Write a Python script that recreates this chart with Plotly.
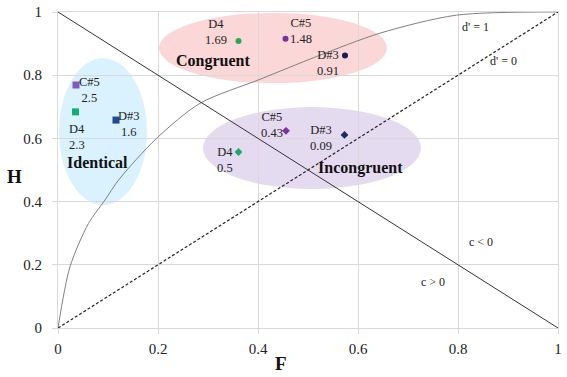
import plotly.graph_objects as go

# ---- data ----
notes = ["C#5", "D4", "D#3"]
# Identical condition
ident_F = [0.036, 0.035, 0.116]
ident_H = [0.769, 0.684, 0.658]
ident_d = ["2.5", "2.3", "1.6"]
# Congruent condition
cong_F = [0.455, 0.361, 0.574]
cong_H = [0.915, 0.908, 0.862]
cong_d = ["1.48", "1.69", "0.91"]
# Incongruent condition
incong_F = [0.456, 0.361, 0.573]
incong_H = [0.624, 0.557, 0.611]
incong_d = ["0.43", "0.5", "0.09"]

# d' = 1 iso-sensitivity curve
curve_F = [0, 0.024, 0.061, 0.094, 0.121, 0.197, 0.284, 0.404, 0.517, 0.644, 0.797, 1]
curve_H = [0, 0.194, 0.331, 0.405, 0.468, 0.600, 0.711, 0.787, 0.859, 0.933, 0.990, 1]
# d' = 0 chance line and c = 0 line
chance_F = [0, 1]
chance_H = [0, 1]
c0_F = [0, 1]
c0_H = [1, 0]

tick_vals = [0, 0.2, 0.4, 0.6, 0.8, 1]
tick_text = ["0", "0.2", "0.4", "0.6", "0.8", "1"]

# ---- style ----
note_colors_ident = {"C#5": "#7B5CC4", "D4": "#12B06A", "D#3": "#1F4A94"}
note_colors_cong = {"C#5": "#7A2FA3", "D4": "#2DA651", "D#3": "#1B1B55"}
note_colors_incong = {"C#5": "#7A2FA3", "D4": "#1BA86C", "D#3": "#1F2A6A"}
FONT = "Liberation Serif, serif"
GRID = "#D9D9D9"

fig = go.Figure()

fig.add_trace(go.Scatter(x=curve_F, y=curve_H, mode="lines", line=dict(color="#808080", width=1, shape="spline", smoothing=0.8), hoverinfo="skip"))
fig.add_trace(go.Scatter(x=chance_F, y=chance_H, mode="lines", line=dict(color="#222222", width=1.2, dash="3px,2px"), hoverinfo="skip"))
fig.add_trace(go.Scatter(x=c0_F, y=c0_H, mode="lines", line=dict(color="#333333", width=1), hoverinfo="skip"))

fig.add_trace(go.Scatter(x=ident_F, y=ident_H, mode="markers",
                         marker=dict(symbol="square", size=7, color=[note_colors_ident[n] for n in notes])))
fig.add_trace(go.Scatter(x=cong_F, y=cong_H, mode="markers",
                         marker=dict(symbol="circle", size=6, color=[note_colors_cong[n] for n in notes])))
fig.add_trace(go.Scatter(x=incong_F, y=incong_H, mode="markers",
                         marker=dict(symbol="diamond", size=6, color=[note_colors_incong[n] for n in notes])))

# ellipses (group regions)
ellipses = [
    dict(x0=0.002, x1=0.178, y0=0.389, y1=0.854, color="rgba(204,238,252,0.75)"),
    dict(x0=0.202, x1=0.658, y0=0.775, y1=0.997, color="rgba(250,205,205,0.8)"),
    dict(x0=0.290, x1=0.726, y0=0.440, y1=0.699, color="rgba(222,210,236,0.8)"),
]
for e in ellipses:
    fig.add_shape(type="circle", xref="x", yref="y", x0=e["x0"], x1=e["x1"], y0=e["y0"], y1=e["y1"],
                  fillcolor=e["color"], line=dict(width=0), layer="below")

# point labels (note name + d')
label_pos = {
    "ident": [(0.062, 0.752, "center"), (0.018, 0.603, "left"), (0.142, 0.646, "center")],
    "cong": [(0.486, 0.940, "center"), (0.315, 0.938, "center"), (0.539, 0.839, "center")],
    "incong": [(0.427, 0.644, "center"), (0.333, 0.533, "center"), (0.525, 0.600, "center")],
}
for key, dvals in (("ident", ident_d), ("cong", cong_d), ("incong", incong_d)):
    for n, d, (x, y, anc) in zip(notes, dvals, label_pos[key]):
        fig.add_annotation(x=x, y=y, xref="x", yref="y", text=f"{n}<br>{d}", showarrow=False,
                           xanchor=anc, align=anc, font=dict(family=FONT, size=12.5, color="#222"))

groups = [("Identical", 0.079, 0.525), ("Congruent", 0.309, 0.845), ("Incongruent", 0.605, 0.506)]
for t, x, y in groups:
    fig.add_annotation(x=x, y=y, xref="x", yref="y", text=f"<b>{t}</b>", showarrow=False,
                       font=dict(family=FONT, size=16, color="#111"))

lines_text = [("d' = 1", 0.834, 0.953), ("d' = 0", 0.890, 0.845), ("c < 0", 0.845, 0.272), ("c > 0", 0.749, 0.146)]
for t, x, y in lines_text:
    fig.add_annotation(x=x, y=y, xref="x", yref="y", text=t, showarrow=False,
                       font=dict(family=FONT, size=12, color="#222"))

# axis titles
fig.add_annotation(x=0.446, y=-0.111, xref="x", yref="paper", text="<b>F</b>", showarrow=False,
                   xanchor="center", yanchor="middle",
                   font=dict(family=FONT, size=19, color="#111"))
fig.add_annotation(x=-0.088, y=0.48, xref="paper", yref="y", text="<b>H</b>", showarrow=False,
                   xanchor="center", yanchor="middle",
                   font=dict(family=FONT, size=19, color="#111"))

axis_common = dict(range=[0, 1], tickvals=tick_vals, ticktext=tick_text, showgrid=True, gridcolor=GRID,
                   gridwidth=1, zeroline=False, showline=True, linecolor=GRID, mirror=True,
                   ticks="outside", ticklen=5, tickcolor=GRID, automargin=False,
                   tickfont=dict(family=FONT, size=15, color="#222"), fixedrange=True)
fig.update_xaxes(**axis_common, ticklabelstandoff=2)
fig.update_yaxes(**axis_common, ticklabelstandoff=7)

fig.update_layout(width=567, height=377, margin=dict(l=58, r=9, t=12, b=49),
                  font=dict(family=FONT, size=15, color="#222"),
                  plot_bgcolor="white", paper_bgcolor="white", showlegend=False)

fig.write_html("out.html", config={"displayModeBar": False},
               post_script=["document.body.style.margin='0';"])
